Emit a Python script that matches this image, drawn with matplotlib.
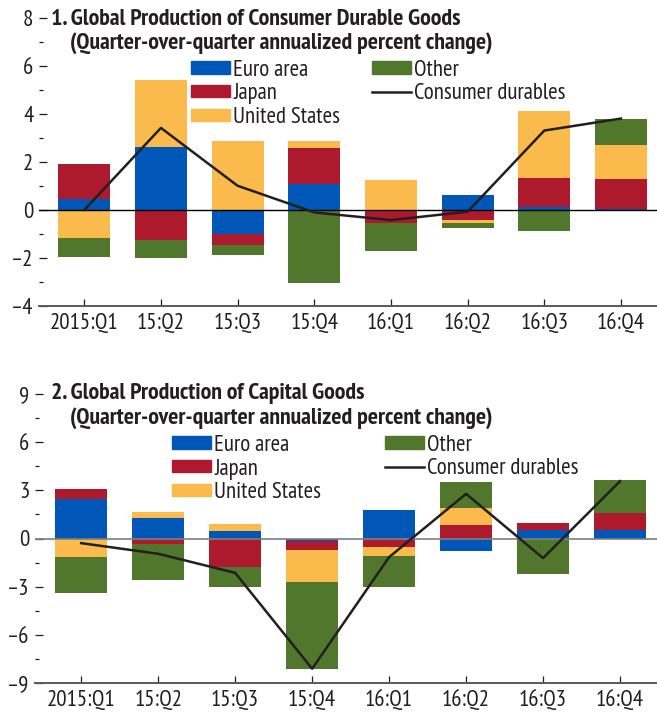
import numpy as np
import matplotlib
matplotlib.use('Agg')
from matplotlib import pyplot as plt
from matplotlib.patches import Patch
from matplotlib.lines import Line2D

plt.rcParams['font.family'] = ['PT Sans Narrow', 'DejaVu Sans']

quarters = ['2015:Q1', '15:Q2', '15:Q3', '15:Q4', '16:Q1', '16:Q2', '16:Q3', '16:Q4']

# panel 1: consumer durable goods
euro1 = [0.46, 2.63, -0.99, 1.10, -0.05, 0.64, 0.14, 0.06]
japan1 = [1.46, -1.24, -0.47, 1.48, -0.48, -0.40, 1.21, 1.25]
us1 = [-1.17, 2.79, 2.88, 0.30, 1.25, -0.13, 2.79, 1.41]
other1 = [-0.78, -0.75, -0.42, -3.03, -1.16, -0.21, -0.86, 1.09]
total1 = [0.0, 3.42, 1.01, -0.10, -0.42, -0.07, 3.31, 3.81]

# panel 2: capital goods
euro2 = [2.45, 1.25, 0.44, -0.17, 1.80, -0.75, 0.50, 0.50]
japan2 = [0.66, -0.37, -1.80, -0.52, -0.56, 0.87, 0.44, 1.06]
us2 = [-1.18, 0.37, 0.44, -1.99, -0.50, 1.00, 0.0, 0.0]
other2 = [-2.22, -2.22, -1.22, -5.44, -1.93, 1.62, -2.18, 2.11]
total2 = [-0.29, -0.95, -2.14, -8.11, -1.16, 2.78, -1.22, 3.57]

names = ['Euro area', 'Japan', 'United States', 'Other']
colors = ['#0057B8', '#AD192D', '#FBBA4C', '#50772B']
txt = '#231F20'
FS = 16.5
TFS = 17.2

W, H = 657, 715
fig = plt.figure(figsize=(W / 100, H / 100), dpi=100)


def px(x0, x1, y0, y1):
    # pixel box -> figure fraction
    return [x0 / W, 1 - y1 / H, (x1 - x0) / W, (y1 - y0) / H]


def panel(box, series, total, ylim, major, minor, xlim, zcol, zlw):
    ax = fig.add_axes(box)
    x = np.arange(len(quarters))
    pos = np.zeros(len(x))
    neg = np.zeros(len(x))
    for vals, c in zip(series, colors):
        v = np.array(vals)
        b = np.where(v >= 0, pos, neg)
        ax.bar(x, v, 0.68, bottom=b, color=c, zorder=2)
        pos = pos + np.where(v >= 0, v, 0)
        neg = neg + np.where(v < 0, v, 0)
    ax.axhline(0, color=zcol, lw=zlw, zorder=3)
    ax.plot(x, total, color=txt, lw=1.8, zorder=4)
    ax.set_xlim(*xlim)
    ax.set_ylim(*ylim)
    ax.set_xticks(x)
    ax.set_xticklabels(quarters)
    ax.set_yticks(major)
    ax.set_yticks(minor, minor=True)
    ax.set_yticklabels([str(m).replace('-', '\u2013') for m in major])
    for s in ['left', 'right', 'top']:
        ax.spines[s].set_visible(False)
    ax.spines['bottom'].set_color('#595959')
    ax.spines['bottom'].set_linewidth(1.4)
    ax.tick_params(axis='x', direction='in', length=5, width=0.9, color=txt,
                   labelsize=FS, labelcolor=txt, pad=5)
    ax.tick_params(axis='y', which='major', direction='in', length=6, width=0.9,
                   color=txt, labelsize=FS, labelcolor=txt, pad=4)
    ax.tick_params(axis='y', which='minor', direction='in', length=3, width=0.9,
                   color=txt)
    return ax


ax1 = panel(px(39, 657, 18, 306), [euro1, japan1, us1, other1], total1,
            (-4, 8), np.arange(-4, 9, 2), np.arange(-3, 8, 2), (-0.59, 7.47), 'black', 1.0)
ax2 = panel(px(35, 657, 394, 683), [euro2, japan2, us2, other2], total2,
            (-9, 9), np.arange(-9, 10, 3), np.arange(-7.5, 9, 3), (-0.6, 7.48), '#7f7f7f', 1.2)

fig.text(51 / W, 1 - 25 / H, '1. Global Production of Consumer Durable Goods',
         fontsize=TFS, fontweight='bold', color=txt, va='baseline')
fig.text(70 / W, 1 - 49 / H, '(Quarter-over-quarter annualized percent change)',
         fontsize=TFS, fontweight='bold', color=txt, va='baseline')
fig.text(51 / W, 1 - 399 / H, '2. Global Production of Capital Goods',
         fontsize=TFS, fontweight='bold', color=txt, va='baseline')
fig.text(70 / W, 1 - 424 / H, '(Quarter-over-quarter annualized percent change)',
         fontsize=TFS, fontweight='bold', color=txt, va='baseline')

patches = [Patch(color=c, label=n) for n, c in zip(names, colors)]
line_h = Line2D([], [], color=txt, lw=1.8, label='Consumer durables')


def leg(handles, x, yc):
    lg = fig.legend(handles=handles, loc='center left', bbox_to_anchor=(x / W, 1 - yc / H),
                    frameon=False, fontsize=FS, borderpad=0, borderaxespad=0,
                    handlelength=1.7, handleheight=0.45, handletextpad=0.15,
                    labelspacing=0.12, labelcolor=txt)
    return lg


leg(patches[:3], 191, 94)
leg([patches[3], line_h], 372, 82)
leg(patches[:3], 172, 469)
leg([patches[3], line_h], 385, 457)

fig.savefig('out.png', dpi=100)
